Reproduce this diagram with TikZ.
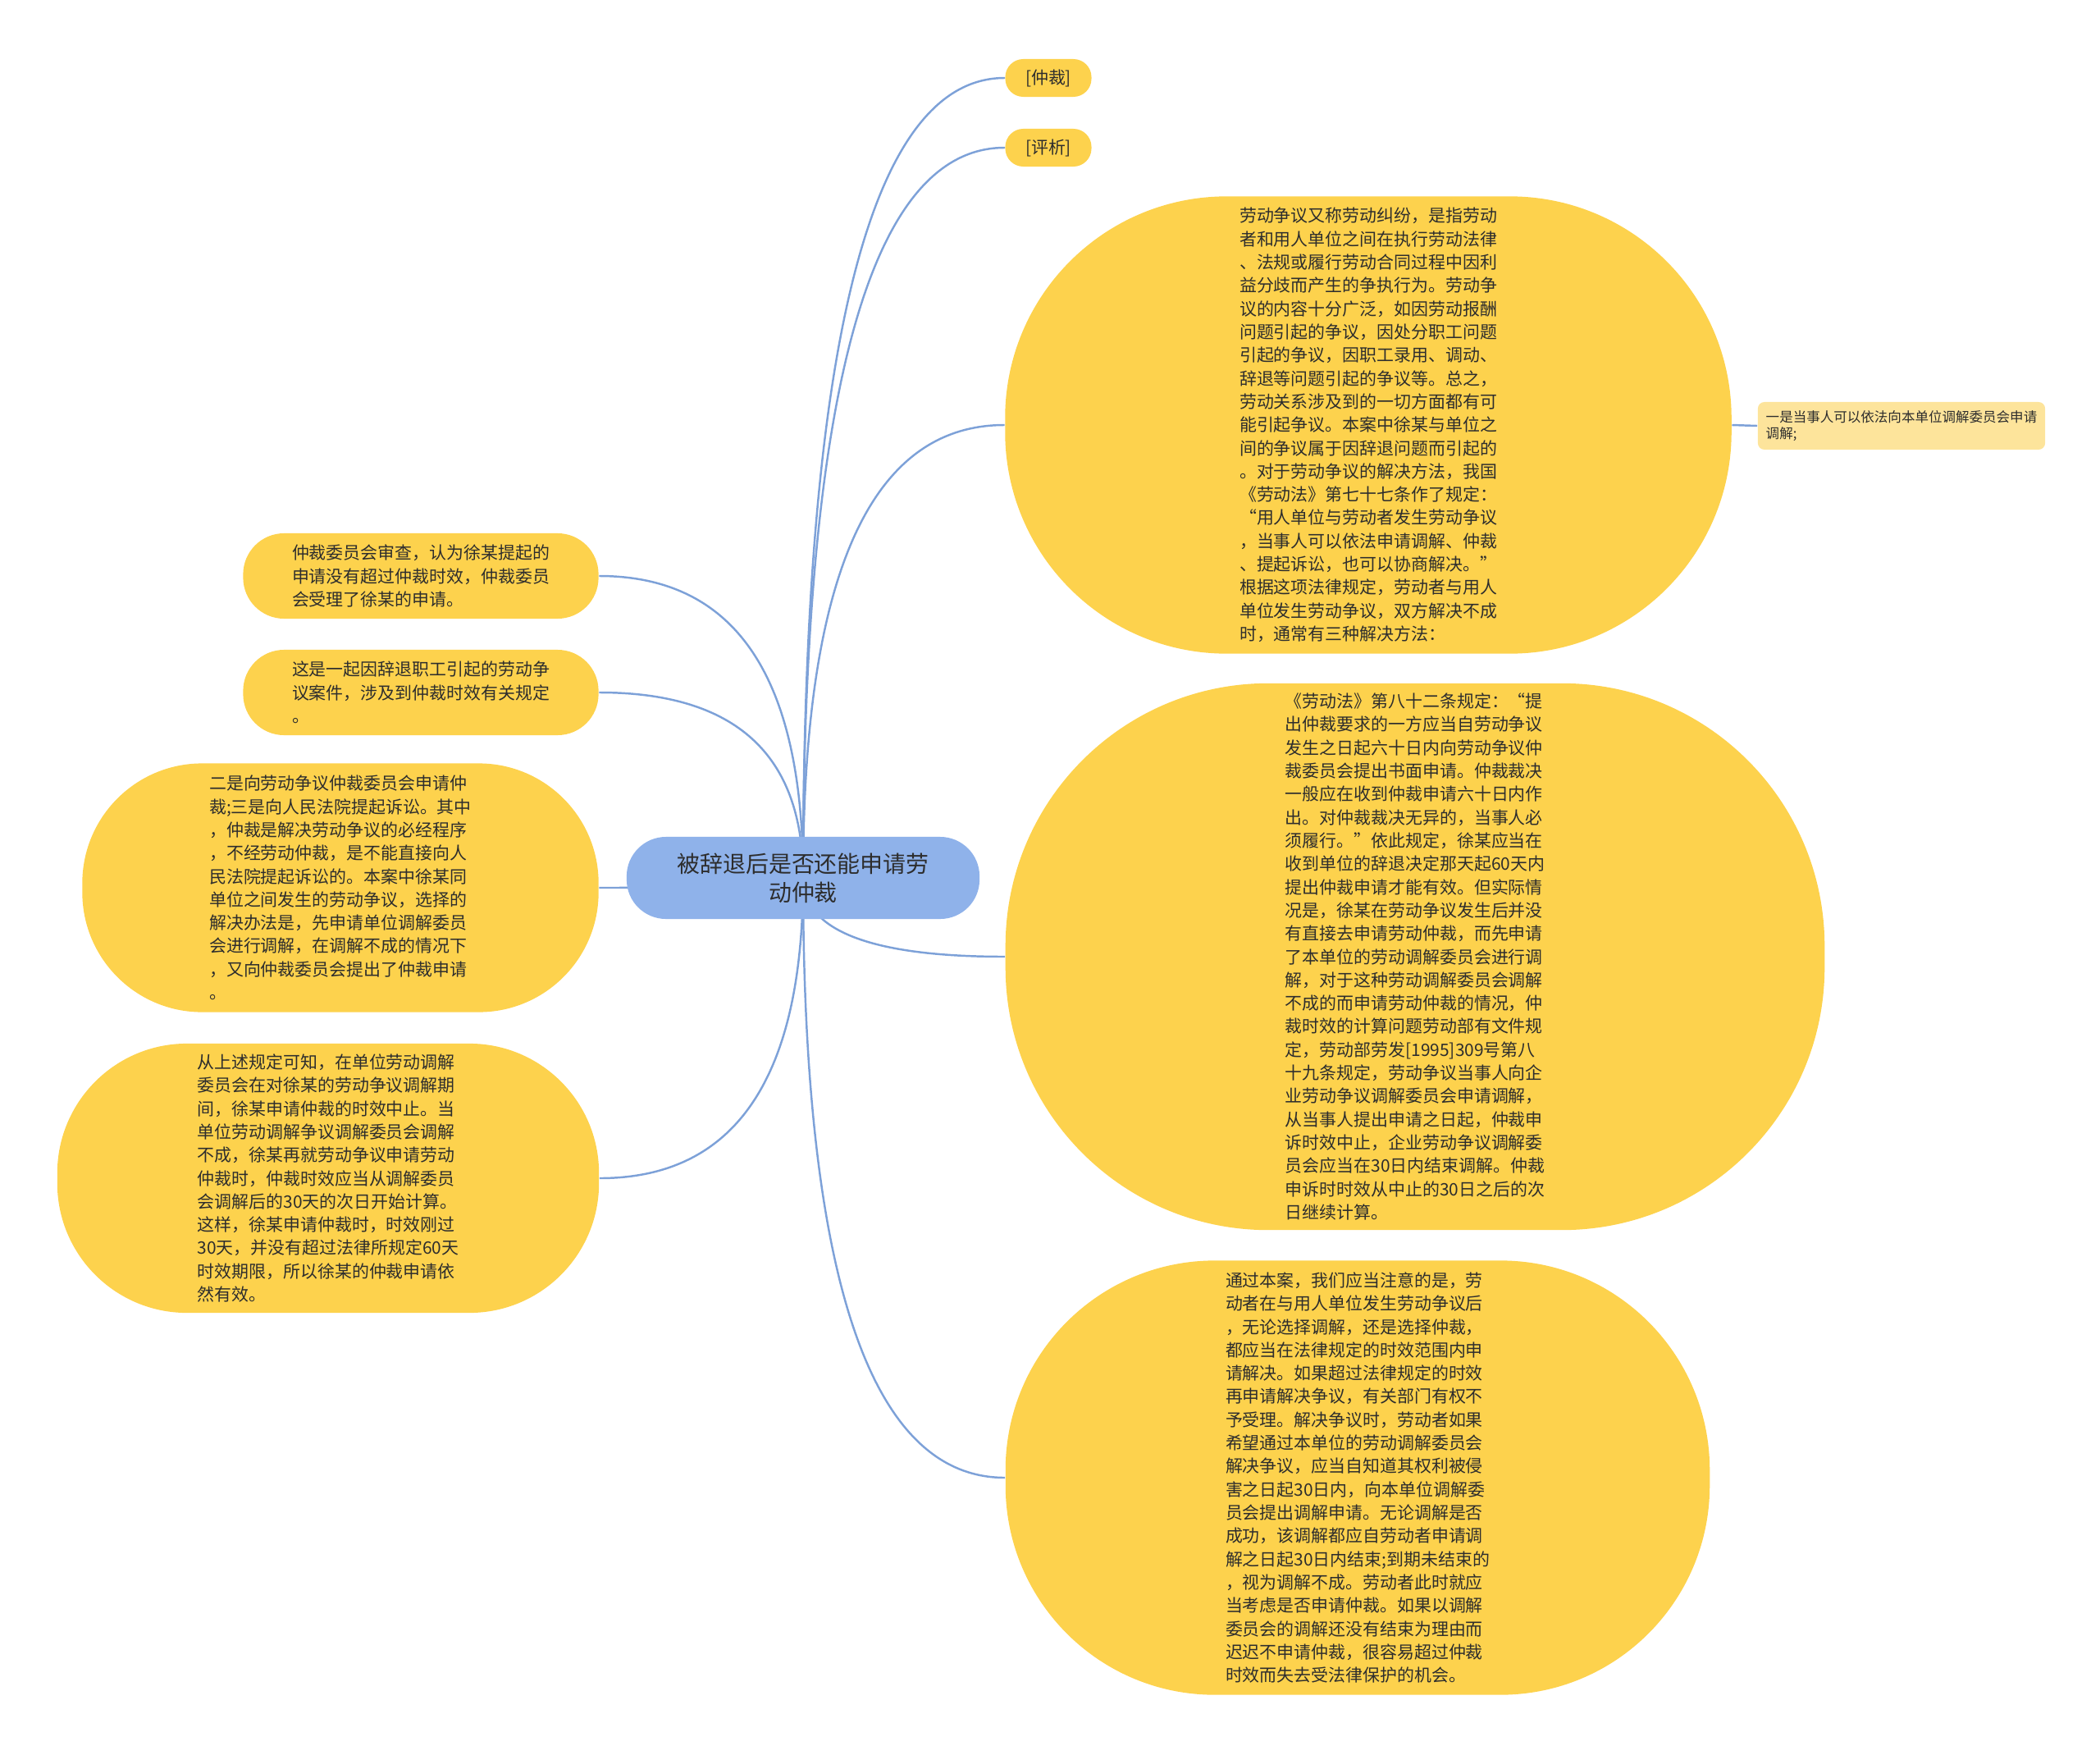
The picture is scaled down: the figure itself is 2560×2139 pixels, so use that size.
\documentclass[tikz,border=0pt]{standalone}
\usepackage{fontspec}
\usetikzlibrary{calc}
\newfontfamily\cjk{Noto Sans CJK SC}

\definecolor{rootblue}{RGB}{143,178,234}
\definecolor{leafyellow}{RGB}{253,210,77}
\definecolor{noteyellow}{RGB}{253,228,155}
\definecolor{linkblue}{RGB}{125,161,216}
\definecolor{textdark}{RGB}{45,45,45}

\pgfdeclarelayer{bg}
\pgfsetlayers{bg,main}

\tikzset{
  topic/.style={fill=rootblue, text=textdark, inner sep=0pt, align=center,
    font=\cjk\fontsize{7.95}{9.95}\selectfont},
  leaf/.style={fill=leafyellow, text=textdark, inner sep=0pt, align=left,
    font=\cjk\fontsize{5.95}{8.05}\selectfont},
  note/.style={fill=noteyellow, text=textdark, inner sep=0pt, align=left,
    rounded corners=0.08cm, font=\cjk\fontsize{4.7}{5.7}\selectfont},
  link/.style={draw=linkblue, line width=0.7pt},
  branch/.style={to path={.. controls ($(\tikztostart)!.667!(\tikztostart|-\tikztotarget)$)
    and ($(\tikztotarget)!.667!(\tikztostart|-\tikztotarget)$) .. (\tikztotarget)}}
}

\begin{document}
\begin{tikzpicture}[x=0.01cm,y=-0.01cm]
  \useasboundingbox (0,0) rectangle (2560,2139);
  % central topic
  \node[topic,minimum width=4.3cm,minimum height=1cm,rounded corners=0.48cm] at(979,1070)(root){被辞退后是否还能申请劳\\动仲裁};
  % right: short labels
  \node[leaf,minimum width=1.05cm,minimum height=0.46cm,rounded corners=0.22cm] at(1278,95)(zc){[仲裁]};
  \node[leaf,minimum width=1.05cm,minimum height=0.46cm,rounded corners=0.22cm] at(1278,180)(px){[评析]};
  % right: dispute
  \node[leaf,minimum width=8.85cm,minimum height=5.57cm,rounded corners=2.7cm] at(1668,518)(e1){劳动争议又称劳动纠纷，是指劳动\\
者和用人单位之间在执行劳动法律\\
、法规或履行劳动合同过程中因利\\
益分歧而产生的争执行为。劳动争\\
议的内容十分广泛，如因劳动报酬\\
问题引起的争议，因处分职工问题\\
引起的争议，因职工录用、调动、\\
辞退等问题引起的争议等。总之，\\
劳动关系涉及到的一切方面都有可\\
能引起争议。本案中徐某与单位之\\
间的争议属于因辞退问题而引起的\\
。对于劳动争议的解决方法，我国\\
《劳动法》第七十七条作了规定：\\
“用人单位与劳动者发生劳动争议\\
，当事人可以依法申请调解、仲裁\\
、提起诉讼，也可以协商解决。”\\
根据这项法律规定，劳动者与用人\\
单位发生劳动争议，双方解决不成\\
时，通常有三种解决方法：};
  \node[note,minimum width=3.5cm,minimum height=0.58cm] at(2318,519)(way1){一是当事人可以依法向本单位调解委员会申请\\调解;};
  % right: article 82
  \node[leaf,minimum width=9.98cm,minimum height=6.66cm,rounded corners=3.2cm] at(1725,1166)(e2){《劳动法》第八十二条规定：“提\\
出仲裁要求的一方应当自劳动争议\\
发生之日起六十日内向劳动争议仲\\
裁委员会提出书面申请。仲裁裁决\\
一般应在收到仲裁申请六十日内作\\
出。对仲裁裁决无异的，当事人必\\
须履行。”依此规定，徐某应当在\\
收到单位的辞退决定那天起60天内\\
提出仲裁申请才能有效。但实际情\\
况是，徐某在劳动争议发生后并没\\
有直接去申请劳动仲裁，而先申请\\
了本单位的劳动调解委员会进行调\\
解，对于这种劳动调解委员会调解\\
不成的而申请劳动仲裁的情况，仲\\
裁时效的计算问题劳动部有文件规\\
定，劳动部劳发[1995]309号第八\\
十九条规定，劳动争议当事人向企\\
业劳动争议调解委员会申请调解，\\
从当事人提出申请之日起，仲裁申\\
诉时效中止，企业劳动争议调解委\\
员会应当在30日内结束调解。仲裁\\
申诉时时效从中止的30日之后的次\\
日继续计算。};
  % right: lesson
  \node[leaf,minimum width=8.58cm,minimum height=5.29cm,rounded corners=2.55cm] at(1655,1801)(e3){通过本案，我们应当注意的是，劳\\
动者在与用人单位发生劳动争议后\\
，无论选择调解，还是选择仲裁，\\
都应当在法律规定的时效范围内申\\
请解决。如果超过法律规定的时效\\
再申请解决争议，有关部门有权不\\
予受理。解决争议时，劳动者如果\\
希望通过本单位的劳动调解委员会\\
解决争议，应当自知道其权利被侵\\
害之日起30日内，向本单位调解委\\
员会提出调解申请。无论调解是否\\
成功，该调解都应自劳动者申请调\\
解之日起30日内结束;到期未结束的\\
，视为调解不成。劳动者此时就应\\
当考虑是否申请仲裁。如果以调解\\
委员会的调解还没有结束为理由而\\
迟迟不申请仲裁，很容易超过仲裁\\
时效而失去受法律保护的机会。};
  % left branches
  \node[leaf,minimum width=4.33cm,minimum height=1.04cm,rounded corners=0.5cm] at(513,702)(accept){仲裁委员会审查，认为徐某提起的\\
申请没有超过仲裁时效，仲裁委员\\
会受理了徐某的申请。};
  \node[leaf,minimum width=4.33cm,minimum height=1.04cm,rounded corners=0.5cm] at(513,844)(case){这是一起因辞退职工引起的劳动争\\
议案件，涉及到仲裁时效有关规定\\
。};
  \node[leaf,minimum width=6.29cm,minimum height=3.03cm,rounded corners=1.46cm] at(415,1082)(way23){二是向劳动争议仲裁委员会申请仲\\
裁;三是向人民法院提起诉讼。其中\\
，仲裁是解决劳动争议的必经程序\\
，不经劳动仲裁，是不能直接向人\\
民法院提起诉讼的。本案中徐某同\\
单位之间发生的劳动争议，选择的\\
解决办法是，先申请单位调解委员\\
会进行调解，在调解不成的情况下\\
，又向仲裁委员会提出了仲裁申请\\
。};
  \node[leaf,minimum width=6.6cm,minimum height=3.28cm,rounded corners=1.58cm] at(400,1436)(valid){从上述规定可知，在单位劳动调解\\
委员会在对徐某的劳动争议调解期\\
间，徐某申请仲裁的时效中止。当\\
单位劳动调解争议调解委员会调解\\
不成，徐某再就劳动争议申请劳动\\
仲裁时，仲裁时效应当从调解委员\\
会调解后的30天的次日开始计算。\\
这样，徐某申请仲裁时，时效刚过\\
30天，并没有超过法律所规定60天\\
时效期限，所以徐某的仲裁申请依\\
然有效。};
  % links
  \begin{pgfonlayer}{bg}
    \draw[link] (root.center) to[branch] (zc.west);
    \draw[link] (root.center) to[branch] (px.west);
    \draw[link] (root.center) to[branch] (e1.west);
    \draw[link] (root.center) to[branch] (e2.west);
    \draw[link] (root.center) to[branch] (e3.west);
    \draw[link] (root.center) to[branch] (accept.east);
    \draw[link] (root.center) to[branch] (case.east);
    \draw[link] (root.center) to[branch] (way23.east);
    \draw[link] (root.center) to[branch] (valid.east);
    \draw[link] (e1.east) -- (way1.west);
  \end{pgfonlayer}
\end{tikzpicture}
\end{document}
